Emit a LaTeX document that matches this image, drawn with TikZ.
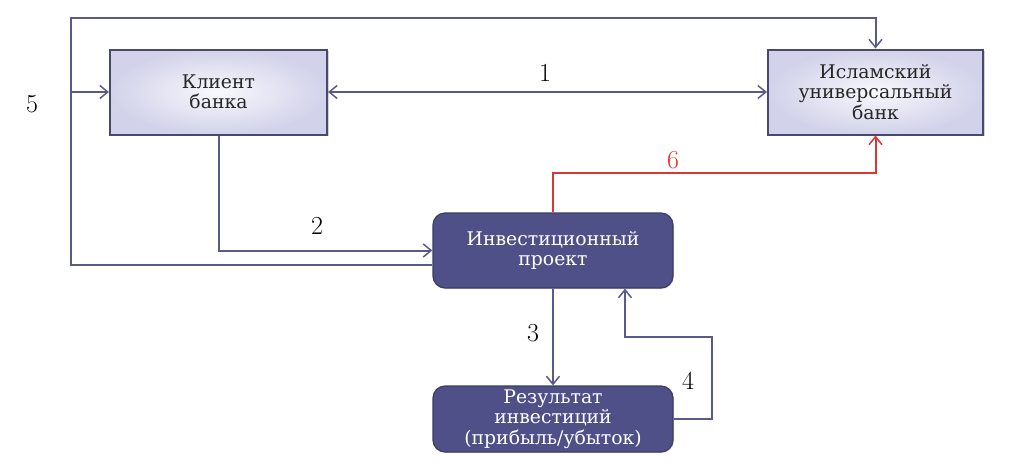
\documentclass[tikz,border=0pt]{standalone}
\usepackage{fontspec}
\newfontfamily\ru{DejaVu Serif}
\usetikzlibrary{arrows.meta,shadows,calc}
\definecolor{lnc}{RGB}{90,90,136}
\definecolor{bord}{RGB}{72,72,112}
\definecolor{lavtop}{RGB}{248,248,253}
\definecolor{lavbot}{RGB}{210,210,234}
\definecolor{darkbox}{RGB}{80,80,136}
\definecolor{darkbord}{RGB}{60,60,100}
\definecolor{redln}{RGB}{222,52,52}
\tikzset{
  lightbox/.style={draw=bord, line width=2pt, inner color=lavtop, outer color=lavbot,
    minimum width=217pt, minimum height=85pt, align=center, inner sep=2pt,
    font=\ru\fontsize{18.8}{20.5}\selectfont, text=black!85,
    drop shadow={opacity=0.35, shadow xshift=1.5pt, shadow yshift=-1.5pt}},
  darkbox/.style={draw=darkbord, line width=1.2pt, fill=darkbox, rounded corners=12pt,
    minimum width=240pt, align=center, inner sep=2pt,
    font=\ru\fontsize{18.8}{20.5}\selectfont, text=white,
    drop shadow={opacity=0.25, shadow xshift=1pt, shadow yshift=-1pt}},
  conn/.style={draw=lnc, line width=2pt, arrows={-Straight Barb[length=8pt,width=13pt,line width=1.5pt]}},
  connred/.style={draw=redln, line width=2pt, arrows={-Straight Barb[length=8pt,width=13pt,line width=1.5pt]}},
  num/.style={font=\fontsize{26}{26}\selectfont, inner sep=0pt}
}
\begin{document}
\begin{tikzpicture}[x=1pt,y=-1pt]
\useasboundingbox (0,0) rectangle (1013,469);
\node[lightbox] (client) at (218.5,92) {Клиент\\банка};
\node[lightbox, minimum width=215pt] (bank) at (875.5,92) {Исламский\\универсальный\\банк};
\node[darkbox, minimum height=75pt] (inv) at (553,250.5) {Инвестиционный\\проект};
\node[darkbox, minimum height=66pt] (res) at (553,419) {Результат\\инвестиций\\(прибыль/убыток)};

\coordinate (l5b) at (71,265);
\coordinate (l5m) at (71,92);
\coordinate (l5t) at (71,18);
\coordinate (r4a) at (712,419);
\coordinate (r4b) at (712,337);
\coordinate (r4c) at (625,337);
\coordinate (r6a) at (553,173);

% 1
\draw[conn, arrows={Straight Barb[length=8pt,width=13pt,line width=1.5pt]-Straight Barb[length=8pt,width=13pt,line width=1.5pt]}] (client.east) -- (bank.west);
% 2
\draw[conn] (client.south) |- (inv.west);
% 3
\draw[conn] (inv.south) -- (res.north);
% 4
\draw[conn] (res.east) -- (r4a) -- (r4b) -- (r4c) -- (r4c |- inv.south);
% 5
\draw[conn] ([yshift=-14.5pt]inv.west) -- (l5b) -- (l5t) -| (bank.north);
\draw[conn] (l5m) -- (client.west);
% 6
\draw[connred] (inv.north) -- (r6a) -| (bank.south);

\node[num] (n1) at (545,73) {1};
\node[num] (n2) at (317,226) {2};
\node[num] (n3) at (533,333) {3};
\node[num] (n4) at (688,381) {4};
\node[num] (n5) at (32,104) {5};
\node[num, text=redln] (n6) at (673,160) {6};
\end{tikzpicture}
\end{document}
